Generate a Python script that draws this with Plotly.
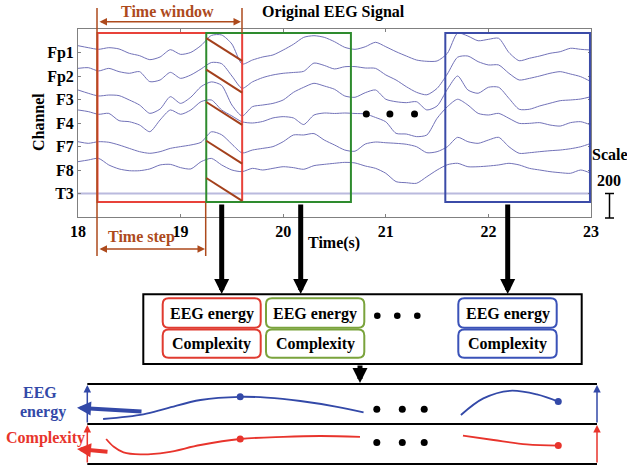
import plotly.graph_objects as go

W, H = 627, 466


def X(px):
    return px / W


def Y(py):
    return 1 - py / H


FONT = "Liberation Serif"
BROWN = "#ad4a1c"
BLACK = "#000000"
FS = 16

# ---------------- EEG data (µV deviation, sampled every 0.1 s) ----------------
times = [18.0, 18.1, 18.2, 18.3, 18.4, 18.5, 18.6, 18.7, 18.8, 18.9,
         19.0, 19.1, 19.2, 19.3, 19.4, 19.5, 19.6, 19.7, 19.8, 19.9,
         20.0, 20.1, 20.2, 20.3, 20.4, 20.5, 20.6, 20.7, 20.8, 20.9,
         21.0, 21.1, 21.2, 21.3, 21.4, 21.5, 21.6, 21.7, 21.8, 21.9,
         22.0, 22.1, 22.2, 22.3, 22.4, 22.5, 22.6, 22.7, 22.8, 22.9, 23.0]

channels = ["Fp1", "Fp2", "F3", "F4", "F7", "F8", "T3"]
offsets = [1400, 1200, 1000, 800, 600, 400, 200]

fp1 = [58, 41, 27, 41, 30, -7, -27, -61, -38, 24,
       -16, 1, 60, 145, 149, 72, -98, -64, -38, -21,
       21, 70, 129, 143, 129, 92, 44, 27, 49, 87,
       49, 7, -30, -64, -75, -72, -7, 165, 140, 100,
       112, 121, 0, -70, -49, -30, -7, 7, 36, 27, 21]
fp2 = [65, 71, 43, 65, 37, 23, 37, -48, -34, 31,
       -20, 9, 60, 115, 105, 0, -105, -50, -14, 9,
       23, 30, 40, 110, 90, 60, 79, 80, 68, 65,
       9, -34, -91, -139, -160, -105, 17, 160, 170, 122,
       94, 94, 23, -34, -20, 0, 23, 37, 17, -6, -48]
f3 = [81, 53, 30, 38, 33, -4, -47, -118, -81, 24,
      -33, 20, 110, 150, 120, -47, -140, -61, -47, -33,
      -4, 61, 104, 138, 115, 87, 30, 19, 58, 81,
      2, -19, -27, -19, -89, -55, 87, 200, 81, 53,
      104, 104, 10, -83, -83, -55, -32, -10, -4, 4, 24]
f4 = [111, 97, 74, 82, 20, 11, -17, -74, 26, 111,
      74, 111, 182, 196, 111, 60, 10, 0, 13, 43,
      54, 43, -13, 68, 85, 81, 85, 81, 77, 47,
      10, -88, -94, -116, -102, 40, 139, 202, 153, 82,
      68, 82, 40, -3, -3, 3, -17, -26, 3, 11, -17]
f7 = [41, 27, 41, 36, 13, -16, -44, -58, -44, -16,
      -1, 13, 36, 125, 100, 20, -55, -30, -16, -1,
      41, 98, 98, 110, 55, 13, -30, -40, 21, 38,
      32, 27, 19, -2, -53, -44, -2, 78, 41, 27,
      55, 78, -2, -58, -53, -44, -36, -30, -19, -2, 27]
f8 = [71, 85, 99, 43, 9, -6, -6, 9, 43, 48,
      20, 9, 71, 99, 43, 0, -14, 14, 0, 14,
      28, 20, 6, 37, 48, 57, 65, 60, 34, 14,
      -28, -99, -108, -113, -57, 0, 45, 57, 28, 28,
      34, 43, 57, 43, 14, 0, -14, -23, -28, 0, -28]
t3 = [0, 0, 0, 0, 0, 0, 0, 0, 0, 0,
      0, 0, 0, 0, 0, 0, 0, 0, 0, 0,
      0, 0, 0, 0, 0, 0, 0, 0, 0, 0,
      0, 0, 0, 0, 0, 0, 0, 0, 0, 0,
      0, 0, 0, 0, 0, 0, 0, 0, 0, 0, 0]
signals = [fp1, fp2, f3, f4, f7, f8, t3]

x_ticks = [18, 19, 20, 21, 22, 23]

# sliding windows
win_start = [18.19, 19.25, 21.58]
win_width = 1.41
win_bottom, win_top = 128, 1566
win_colors = ["#e8423a", "#2e8b2e", "#3b4ba8"]

# hatch of overlap
hatch_top = [1523, 1254, 979, 649, 332]
hatch_drop = 195

# ellipsis dots in EEG panel
eeg_dots_t = [20.81, 21.04, 21.28]
eeg_dots_y = [877, 877, 877]

# ---------------- feature curves (lower panel) ----------------
energy_x1 = [0.31, 1.10, 1.56, 2.22, 3.0, 3.52, 4.18, 4.9, 5.42]
energy_y1 = [1.125, 1.24, 1.39, 1.6, 1.68, 1.66, 1.575, 1.43, 1.29]
energy_x2 = [7.33, 7.77, 8.29, 8.82, 9.24]
energy_y2 = [1.225, 1.64, 1.83, 1.74, 1.56]
energy_dots_x = [3.0, 9.24]
energy_dots_y = [1.68, 1.56]

complexity_x1 = [0.37, 0.52, 0.71, 1.04, 1.56, 2.22, 3.0, 3.85, 4.57, 5.35]
complexity_y1 = [0.625, 0.43, 0.29, 0.24, 0.29, 0.475, 0.625, 0.68, 0.70, 0.68]
complexity_x2 = [7.37, 7.97, 8.62, 9.24]
complexity_y2 = [0.71, 0.6, 0.49, 0.46]
complexity_dots_x = [3.0, 9.24]
complexity_dots_y = [0.625, 0.46]

ell_x = [5.68, 6.18, 6.61]
ell_energy_y = [1.37, 1.37, 1.37]
ell_complex_y = [0.54, 0.54, 0.54]

BLUE = "#3349a8"
RED = "#e8342c"

fig = go.Figure()

for name, off, sig in zip(channels, offsets, signals):
    is_flat = name == "T3"
    fig.add_trace(go.Scatter(
        x=times, y=[off + v for v in sig], mode="lines",
        line=dict(color="#babade" if is_flat else "#7272b8",
                  width=2 if is_flat else 1, shape="spline", smoothing=0.7),
        hoverinfo="skip", showlegend=False, xaxis="x", yaxis="y"))

fig.add_trace(go.Scatter(x=eeg_dots_t, y=eeg_dots_y, mode="markers",
                         marker=dict(color=BLACK, size=7), showlegend=False,
                         hoverinfo="skip", xaxis="x", yaxis="y"))

for xs, ys, c in [(energy_x1, energy_y1, BLUE), (energy_x2, energy_y2, BLUE),
                  (complexity_x1, complexity_y1, RED), (complexity_x2, complexity_y2, RED)]:
    fig.add_trace(go.Scatter(x=xs, y=ys, mode="lines",
                             line=dict(color=c, width=1.8, shape="spline"),
                             showlegend=False, hoverinfo="skip", xaxis="x2", yaxis="y2"))
for xs, ys, c in [(energy_dots_x, energy_dots_y, BLUE), (complexity_dots_x, complexity_dots_y, RED),
                  (ell_x, ell_energy_y, BLACK), (ell_x, ell_complex_y, BLACK)]:
    fig.add_trace(go.Scatter(x=xs, y=ys, mode="markers",
                             marker=dict(color=c, size=7), showlegend=False,
                             hoverinfo="skip", xaxis="x2", yaxis="y2"))

shapes = []
# window boxes
for s, c in zip(win_start, win_colors):
    shapes.append(dict(type="rect", xref="x", yref="y", x0=s, x1=s + win_width,
                       y0=win_bottom, y1=win_top, line=dict(color=c, width=2)))
# hatch
for yt in hatch_top:
    shapes.append(dict(type="line", xref="x", yref="y", x0=win_start[1], x1=win_start[0] + win_width,
                       y0=yt, y1=yt - hatch_drop, line=dict(color="#a3401c", width=2)))


def pline(x0, y0, x1, y1, color, width):
    return dict(type="line", xref="paper", yref="paper", x0=X(x0), y0=Y(y0), x1=X(x1), y1=Y(y1),
                line=dict(color=color, width=width))


# brown guide lines
shapes.append(pline(97, 8, 97, 256, BROWN, 1.5))
shapes.append(pline(242, 8, 242, 33, BROWN, 1.5))
shapes.append(pline(205.7, 203, 205.7, 256, BROWN, 1.5))
# scale bar
shapes.append(pline(609.5, 193.5, 609.5, 218, BLACK, 1.5))
shapes.append(pline(605, 193.5, 614, 193.5, BLACK, 1.5))
shapes.append(pline(605, 218, 614, 218, BLACK, 1.5))
# middle box
shapes.append(dict(type="rect", xref="paper", yref="paper", x0=X(143.3), x1=X(581.7),
                   y0=Y(364), y1=Y(294.3), line=dict(color=BLACK, width=2)))


def rrect(x0, y0, x1, y1, r, color):
    pts = [
        ("M", [(x0 + r, y0)]), ("L", [(x1 - r, y0)]), ("Q", [(x1, y0), (x1, y0 + r)]),
        ("L", [(x1, y1 - r)]), ("Q", [(x1, y1), (x1 - r, y1)]), ("L", [(x0 + r, y1)]),
        ("Q", [(x0, y1), (x0, y1 - r)]), ("L", [(x0, y0 + r)]), ("Q", [(x0, y0), (x0 + r, y0)]),
    ]
    path = " ".join(cmd + " " + " ".join(f"{X(a):.5f},{Y(b):.5f}" for a, b in p) for cmd, p in pts) + " Z"
    return dict(type="path", xref="paper", yref="paper", path=path, line=dict(color=color, width=2))


box_cols = [(162.7, 260.7, "#e03b30"), (266, 364.3, "#7aa33c"), (458.3, 556.7, "#3a52b8")]
for bx0, bx1, c in box_cols:
    shapes.append(rrect(bx0, 298.3, bx1, 327.7, 6, c))
    shapes.append(rrect(bx0, 329.5, bx1, 357.7, 6, c))
for cx in [377.3, 397.3, 417.3]:
    shapes.append(dict(type="circle", xref="paper", yref="paper", x0=X(cx - 3.3), x1=X(cx + 3.3),
                       y0=Y(315.7 + 3.3), y1=Y(315.7 - 3.3), fillcolor=BLACK, line=dict(width=0)))
# lower panel lines
for yy in [384, 424, 464]:
    shapes.append(pline(87.3, yy, 597, yy, BLACK, 2.2))

annotations = []


def txt(s, x, y, color=BLACK, size=FS, angle=0, xanchor="center"):
    annotations.append(dict(text=f"<b>{s}</b>", x=X(x), y=Y(y), xref="paper", yref="paper",
                            showarrow=False, xanchor=xanchor, yanchor="middle", textangle=angle,
                            font=dict(family=FONT, size=size, color=color)))


def arrow(x0, y0, x1, y1, color, width, size=1.0, head=2, both=False):
    annotations.append(dict(text="", x=X(x1), y=Y(y1), xref="paper", yref="paper",
                            ax=x0 - x1, ay=y0 - y1, axref="pixel", ayref="pixel",
                            showarrow=True, arrowhead=head, arrowsize=size, arrowwidth=width,
                            arrowcolor=color, arrowside="end+start" if both else "end",
                            startarrowhead=head, startarrowsize=size))


txt("Original EEG Signal", 333, 12)
txt("Time window", 167, 12, BROWN)
txt("Time step", 141, 237, BROWN)
txt("Time(s)", 334, 243)
txt("Channel", 39, 122, angle=-90)
txt("Scale", 610, 155)
txt("200", 609, 181)
for bx0, bx1, c in box_cols:
    txt("EEG energy", (bx0 + bx1) / 2, 313.5)
    txt("Complexity", (bx0 + bx1) / 2, 343.5)
txt("EEG", 40, 392, BLUE)
txt("energy", 43, 412, BLUE)
txt("Complexity", 45, 438, RED)

arrow(98, 21.7, 241, 21.7, BROWN, 1.5, 1.0, 2, both=True)
arrow(98, 249, 205, 249, BROWN, 1.5, 1.0, 2, both=True)
for ax_ in [221.7, 300.7, 507.7]:
    arrow(ax_, 203, ax_, 294, BLACK, 5, 0.6, 2)
arrow(360, 364, 360, 383, BLACK, 5, 0.6, 2)
arrow(87.3, 424, 87.3, 385, BLUE, 1.5, 1.0, 2)
arrow(597, 424, 597, 385, BLUE, 1.5, 1.0, 2)
arrow(87.3, 464, 87.3, 425, RED, 1.5, 1.0, 2)
arrow(597, 464, 597, 425, RED, 1.5, 1.0, 2)
arrow(143, 411.7, 77, 407.7, BLUE, 4, 0.7, 2)
arrow(109, 452, 77, 449, RED, 4, 0.7, 2)

tickfont = dict(family=FONT, size=FS, color=BLACK)
fig.update_layout(
    width=W, height=H, margin=dict(l=0, r=0, t=0, b=0),
    paper_bgcolor="white", plot_bgcolor="white", showlegend=False,
    xaxis=dict(domain=[X(78), X(591)], range=[18, 23], tickvals=x_ticks,
               ticktext=[f"<b>{v}</b>" for v in x_ticks], tickfont=tickfont,
               ticks="inside", ticklen=3, tickcolor="#808080", showgrid=False, zeroline=False,
               showline=True, linecolor="#808080", linewidth=1, mirror="ticks", automargin=False),
    yaxis=dict(domain=[Y(217), Y(29)], range=[0, 1600], tickvals=offsets,
               ticktext=[f"<b>{c}</b>" for c in channels], tickfont=tickfont,
               ticks="inside", ticklen=3, tickcolor="#808080", showgrid=False, zeroline=False,
               showline=True, linecolor="#808080", linewidth=1, mirror="ticks", automargin=False),
    xaxis2=dict(domain=[X(87.3), X(597)], range=[0, 10], visible=False, anchor="y2"),
    yaxis2=dict(domain=[Y(464), Y(384)], range=[0, 2], visible=False, anchor="x2"),
    shapes=shapes, annotations=annotations,
)

fig.write_html("out.html", config={"displayModeBar": False},
               post_script="document.body.style.margin='0';document.body.style.overflow='hidden';")
